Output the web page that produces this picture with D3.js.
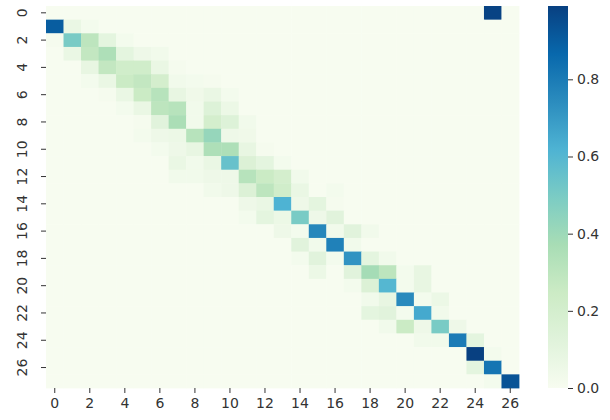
<!DOCTYPE html>
<html lang="en">
<head>
  <meta charset="UTF-8">
  <title>Heatmap</title>
  <style>
    body { margin: 0; background: #fff; }
    .axis text { font-family: "DejaVu Sans", sans-serif; font-size: 14px; fill: #333; }
    .axis line { stroke: #333; }
    .axis path { display: none; }
  </style>
</head>
<body>
  <script src="https://cdnjs.cloudflare.com/ajax/libs/d3/7.8.5/d3.min.js"></script>
  <script>
    var rowIds = d3.range(28),
        colIds = d3.range(27);
    var xTicks = [0, 2, 4, 6, 8, 10, 12, 14, 16, 18, 20, 22, 24, 26],
        yTicks = [0, 2, 4, 6, 8, 10, 12, 14, 16, 18, 20, 22, 24, 26],
        barTicks = [0, 0.2, 0.4, 0.6, 0.8];
    // GnBu anchor colours, interpolated linearly like matplotlib does
    var gnbu = ["#f7fcf0", "#e0f3db", "#ccebc5", "#a8ddb5", "#7bccc4",
                "#4eb3d3", "#2b8cbe", "#0868ac", "#084081"];

    // non-zero cells: [row, col, value]
    var cells = [
      [0, 25, 0.98],
      [1, 0, 0.90], [1, 1, 0.07], [1, 2, 0.02],
      [2, 0, 0.01], [2, 1, 0.50], [2, 2, 0.30], [2, 3, 0.10], [2, 4, 0.02],
      [3, 1, 0.07], [3, 2, 0.28], [3, 3, 0.35], [3, 4, 0.10], [3, 5, 0.05], [3, 6, 0.03],
      [4, 2, 0.08], [4, 3, 0.28], [4, 4, 0.22], [4, 5, 0.22], [4, 6, 0.07], [4, 7, 0.01],
      [5, 2, 0.02], [5, 3, 0.07], [5, 4, 0.25], [5, 5, 0.28], [5, 6, 0.20], [5, 7, 0.03], [5, 8, 0.02], [5, 9, 0.01],
      [6, 3, 0.01], [6, 4, 0.07], [6, 5, 0.25], [6, 6, 0.32], [6, 7, 0.08], [6, 8, 0.04], [6, 9, 0.07], [6, 10, 0.02],
      [7, 4, 0.02], [7, 5, 0.07], [7, 6, 0.30], [7, 7, 0.32], [7, 8, 0.03], [7, 9, 0.14], [7, 10, 0.06],
      [8, 5, 0.01], [8, 6, 0.12], [8, 7, 0.36], [8, 8, 0.03], [8, 9, 0.20], [8, 10, 0.14], [8, 11, 0.03],
      [9, 5, 0.02], [9, 6, 0.05], [9, 7, 0.06], [9, 8, 0.32], [9, 9, 0.42], [9, 10, 0.05], [9, 11, 0.04],
      [10, 6, 0.02], [10, 7, 0.05], [10, 8, 0.08], [10, 9, 0.35], [10, 10, 0.35], [10, 11, 0.08], [10, 12, 0.01],
      [11, 7, 0.07], [11, 8, 0.03], [11, 9, 0.07], [11, 10, 0.55], [11, 11, 0.15], [11, 12, 0.10], [11, 13, 0.02],
      [12, 7, 0.03], [12, 8, 0.03], [12, 9, 0.05], [12, 10, 0.05], [12, 11, 0.32], [12, 12, 0.25], [12, 13, 0.20], [12, 14, 0.03],
      [13, 9, 0.03], [13, 10, 0.05], [13, 11, 0.15], [13, 12, 0.30], [13, 13, 0.22], [13, 14, 0.07], [13, 16, 0.02],
      [14, 11, 0.05], [14, 12, 0.07], [14, 13, 0.62], [14, 14, 0.05], [14, 15, 0.10], [14, 16, 0.01],
      [15, 11, 0.02], [15, 12, 0.10], [15, 13, 0.06], [15, 14, 0.50], [15, 15, 0.05], [15, 16, 0.12],
      [16, 13, 0.05], [16, 14, 0.02], [16, 15, 0.76], [16, 16, 0.03], [16, 17, 0.12], [16, 18, 0.03],
      [17, 14, 0.12], [17, 15, 0.03], [17, 16, 0.78], [17, 17, 0.03],
      [18, 14, 0.02], [18, 15, 0.12], [18, 16, 0.02], [18, 17, 0.72], [18, 18, 0.10], [18, 19, 0.03],
      [19, 15, 0.06], [19, 17, 0.12], [19, 18, 0.38], [19, 19, 0.30], [19, 20, 0.02], [19, 21, 0.08],
      [20, 17, 0.02], [20, 18, 0.15], [20, 19, 0.60], [20, 20, 0.02], [20, 21, 0.08],
      [21, 18, 0.03], [21, 19, 0.08], [21, 20, 0.75], [21, 21, 0.02], [21, 22, 0.06],
      [22, 18, 0.10], [22, 19, 0.12], [22, 20, 0.02], [22, 21, 0.65], [22, 22, 0.03],
      [23, 19, 0.03], [23, 20, 0.25], [23, 21, 0.05], [23, 22, 0.50], [23, 23, 0.05],
      [24, 21, 0.03], [24, 22, 0.03], [24, 23, 0.80], [24, 24, 0.10],
      [25, 24, 0.99], [25, 25, 0.02],
      [26, 24, 0.10], [26, 25, 0.82],
      [27, 25, 0.02], [27, 26, 0.93]
    ];

    var width = 610, height = 420;
    var mLeft = 46, mRight = 519, mTop = 6, mBottom = 388;
    var barX = 548, barW = 20;

    var grid = [];
    rowIds.forEach(function (r) {
      colIds.forEach(function (c) { grid.push({row: r, col: c, value: 0}); });
    });
    cells.forEach(function (d) { grid[d[0] * colIds.length + d[1]].value = d[2]; });

    var vmax = d3.max(grid, function (d) { return d.value; });

    var ramp = d3.piecewise(d3.interpolateRgb, gnbu);
    var x = d3.scaleBand().domain(colIds).range([mLeft, mRight]);
    var y = d3.scaleBand().domain(rowIds).range([mTop, mBottom]);
    var color = d3.scaleSequential(ramp).domain([0, vmax]);

    var svg = d3.select("body").append("svg")
        .attr("width", width)
        .attr("height", height);

    svg.append("g")
      .selectAll("rect")
      .data(grid)
      .enter().append("rect")
        .attr("x", function (d) { return x(d.col); })
        .attr("y", function (d) { return y(d.row); })
        .attr("width", x.bandwidth() + 0.4)
        .attr("height", y.bandwidth() + 0.4)
        .attr("fill", function (d) { return color(d.value); });

    svg.append("g")
        .attr("class", "axis")
        .attr("transform", "translate(0," + mBottom + ")")
        .call(d3.axisBottom(x).tickValues(xTicks).tickSize(5).tickPadding(5));

    var yAxis = svg.append("g")
        .attr("class", "axis")
        .attr("transform", "translate(" + mLeft + ",0)")
        .call(d3.axisLeft(y).tickValues(yTicks).tickSize(5).tickPadding(0));
    yAxis.selectAll("text")
        .attr("x", 0).attr("dy", null)
        .attr("text-anchor", "middle")
        .attr("dominant-baseline", "central")
        .attr("transform", "translate(-24,0) rotate(-90)");

    // colour bar
    var grad = svg.append("defs").append("linearGradient")
        .attr("id", "cbar").attr("x1", 0).attr("y1", 1).attr("x2", 0).attr("y2", 0);
    d3.range(0, 1.0001, 0.125).forEach(function (t) {
      grad.append("stop").attr("offset", t).attr("stop-color", ramp(t));
    });
    svg.append("rect")
        .attr("x", barX).attr("y", mTop)
        .attr("width", barW).attr("height", mBottom - mTop)
        .attr("fill", "url(#cbar)");

    var cy = d3.scaleLinear().domain([0, vmax]).range([mBottom, mTop]);
    svg.append("g")
        .attr("class", "axis")
        .attr("transform", "translate(" + (barX + barW) + ",0)")
        .call(d3.axisRight(cy).tickValues(barTicks).tickFormat(d3.format(".1f")).tickSize(5).tickPadding(4));
  </script>
</body>
</html>
